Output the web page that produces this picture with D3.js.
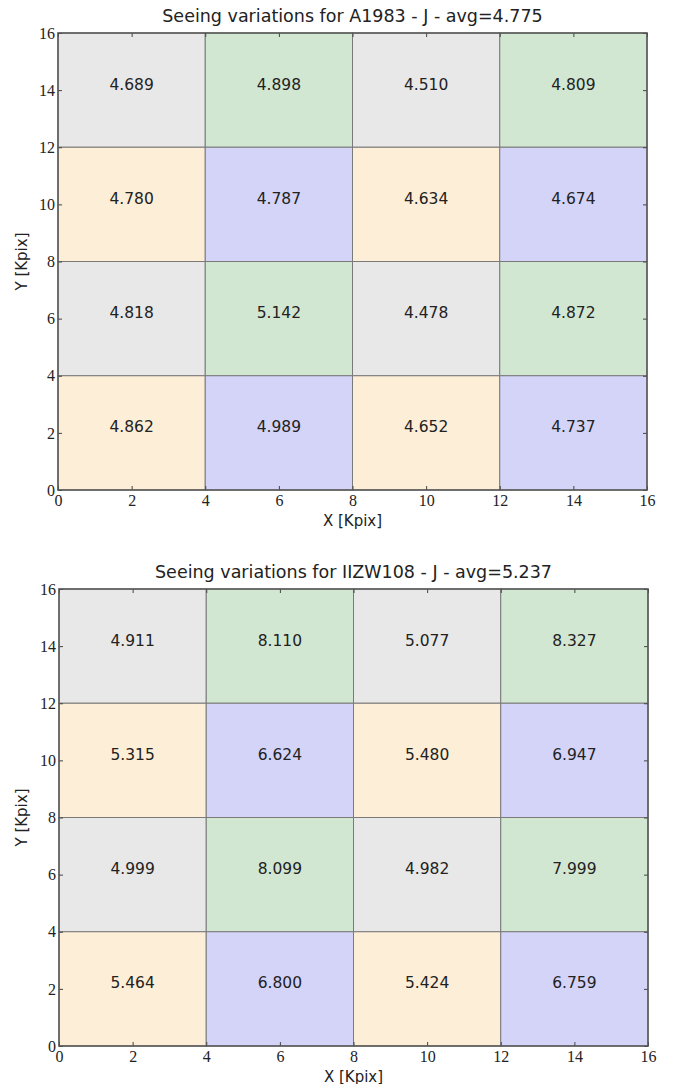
<!DOCTYPE html>
<html>
<head>
<meta charset="utf-8">
<script src="https://cdn.jsdelivr.net/npm/d3@7"></script>
<style>
  body { margin: 0; background: #fff; }
  svg text { fill: #222; }
</style>
</head>
<body>
<svg id="chart" width="681" height="1084"></svg>
<script>
// grid values, top row first (y 12-16 down to 0-4), left to right
var titles = [
  "Seeing variations for A1983 - J - avg=4.775",
  "Seeing variations for IIZW108 - J - avg=5.237"
];
var seeingA1983 = [
  [4.689, 4.898, 4.510, 4.809],
  [4.780, 4.787, 4.634, 4.674],
  [4.818, 5.142, 4.478, 4.872],
  [4.862, 4.989, 4.652, 4.737]
];
var seeingIIZW108 = [
  [4.911, 8.110, 5.077, 8.327],
  [5.315, 6.624, 5.480, 6.947],
  [4.999, 8.099, 4.982, 7.999],
  [5.464, 6.800, 5.424, 6.759]
];
var tickValues = [0, 2, 4, 6, 8, 10, 12, 14, 16];
var cellSize = 4;
var cellColors = ["#fdeed7", "#d4d4f9", "#e8e8e8", "#d2e7d2"];

var svg = d3.select("#chart");

var panels = [
  {title: titles[0], values: seeingA1983, left: 58, right: 647, top: 33, bottom: 490},
  {title: titles[1], values: seeingIIZW108, left: 59, right: 648, top: 589, bottom: 1046}
];

panels.forEach(drawPanel);

function drawPanel(p) {
  var x = d3.scaleLinear().domain([0, 16]).range([p.left, p.right]),
      y = d3.scaleLinear().domain([0, 16]).range([p.bottom, p.top]);

  var cells = [];
  p.values.forEach(function(row, r) {
    row.forEach(function(v, c) {
      var y0 = 16 - (r + 1) * cellSize;
      cells.push({x0: c * cellSize, y0: y0, value: v, row: r, col: c});
    });
  });

  var g = svg.append("g");

  g.selectAll("rect.cell")
    .data(cells)
    .enter()
    .append("rect")
    .attr("class", "cell")
    .attr("x", d => x(d.x0))
    .attr("y", d => y(d.y0 + cellSize))
    .attr("width", d => x(d.x0 + cellSize) - x(d.x0))
    .attr("height", d => y(d.y0) - y(d.y0 + cellSize))
    // bottom row of each pair is orange/blue, top row is gray/green
    .attr("fill", d => cellColors[(d.row % 2 === 1 ? 0 : 2) + (d.col % 2)])
    .attr("stroke", "#7a7a7a")
    .attr("stroke-width", 1);

  g.selectAll("text.val")
    .data(cells)
    .enter()
    .append("text")
    .attr("class", "val")
    .attr("x", d => x(d.x0 + cellSize / 2))
    .attr("y", d => y(d.y0 + cellSize / 2) - 5)
    .attr("text-anchor", "middle")
    .attr("dominant-baseline", "middle")
    .style("font-family", "DejaVu Sans")
    .style("font-size", "15.5px")
    .text(d => d.value.toFixed(3));

  // ticks inside, on all four sides
  var tickLen = 4;
  var axisFont = "'Liberation Serif', 'DejaVu Serif', serif";

  var bottomAxis = g.append("g")
    .attr("transform", "translate(0," + p.bottom + ")")
    .call(d3.axisBottom(x).tickValues(tickValues).tickSize(-tickLen).tickPadding(5).tickFormat(d3.format("d")));
  var topAxis = g.append("g")
    .attr("transform", "translate(0," + p.top + ")")
    .call(d3.axisTop(x).tickValues(tickValues).tickSize(-tickLen).tickFormat(""));
  var leftAxis = g.append("g")
    .attr("transform", "translate(" + p.left + ",0)")
    .call(d3.axisLeft(y).tickValues(tickValues).tickSize(-tickLen).tickPadding(3).tickFormat(d3.format("d")));
  var rightAxis = g.append("g")
    .attr("transform", "translate(" + p.right + ",0)")
    .call(d3.axisRight(y).tickValues(tickValues).tickSize(-tickLen).tickFormat(""));

  [bottomAxis, topAxis, leftAxis, rightAxis].forEach(function(a) {
    a.attr("font-family", null);
    a.select(".domain").remove();
    a.selectAll(".tick line").attr("stroke", "#444");
    a.selectAll("text")
      .style("font-family", axisFont)
      .style("font-size", "16px")
      .attr("fill", "#222");
  });

  g.append("rect")
    .attr("x", p.left)
    .attr("y", p.top)
    .attr("width", p.right - p.left)
    .attr("height", p.bottom - p.top)
    .attr("fill", "none")
    .attr("stroke", "#555")
    .attr("stroke-width", 1.5);

  g.append("text")
    .attr("x", (p.left + p.right) / 2)
    .attr("y", p.top - 16)
    .attr("text-anchor", "middle")
    .attr("dominant-baseline", "middle")
    .style("font-family", "DejaVu Sans")
    .style("font-size", "17.5px")
    .text(p.title);

  g.append("text")
    .attr("x", (p.left + p.right) / 2)
    .attr("y", p.bottom + 31)
    .attr("text-anchor", "middle")
    .attr("dominant-baseline", "middle")
    .style("font-family", "DejaVu Sans")
    .style("font-size", "15px")
    .text("X [Kpix]");

  g.append("text")
    .attr("transform", "translate(22," + ((p.top + p.bottom) / 2) + ") rotate(-90)")
    .attr("text-anchor", "middle")
    .attr("dominant-baseline", "middle")
    .style("font-family", "DejaVu Sans")
    .style("font-size", "15px")
    .text("Y [Kpix]");
}
</script>
</body>
</html>
